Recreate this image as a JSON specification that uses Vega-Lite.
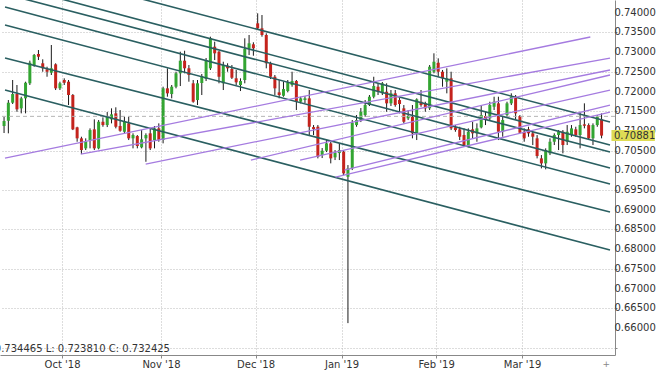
{
  "$schema": "https://vega.github.io/schema/vega-lite/v6.json",
  "width": 615,
  "height": 355,
  "autosize": {"type": "none"},
  "padding": {"left": 0, "top": 0, "right": 45, "bottom": 16},
  "background": "white",
  "config": {"view": {"stroke": null}, "font": "DejaVu Sans"},
  "datasets": {
    "one": [{"k": 1}],
    "ylabels": [{"v":0.66},{"v":0.665},{"v":0.67},{"v":0.675},{"v":0.68},{"v":0.685},{"v":0.69},{"v":0.695},{"v":0.7},{"v":0.705},{"v":0.71},{"v":0.715},{"v":0.72},{"v":0.725},{"v":0.73},{"v":0.735},{"v":0.74}],
    "candles": [
      {"i":-14,"o":0.71124,"h":0.71353,"l":0.70947,"c":0.71251},
      {"i":-13,"o":0.71258,"h":0.71784,"l":0.70939,"c":0.71716},
      {"i":-12,"o":0.71716,"h":0.72292,"l":0.71683,"c":0.71936},
      {"i":-11,"o":0.71936,"h":0.72165,"l":0.71487,"c":0.71548},
      {"i":-10,"o":0.71573,"h":0.71868,"l":0.71446,"c":0.71827},
      {"i":-9,"o":0.71827,"h":0.72249,"l":0.71446,"c":0.72223},
      {"i":-8,"o":0.72208,"h":0.72782,"l":0.72165,"c":0.72731},
      {"i":-7,"o":0.72647,"h":0.72952,"l":0.72629,"c":0.72926},
      {"i":-6,"o":0.72952,"h":0.73053,"l":0.72799,"c":0.72883},
      {"i":-5,"o":0.72716,"h":0.72817,"l":0.72502,"c":0.72589},
      {"i":-4,"o":0.72563,"h":0.72629,"l":0.72375,"c":0.72502},
      {"i":-3,"o":0.72477,"h":0.73180,"l":0.72419,"c":0.72589},
      {"i":-2,"o":0.72690,"h":0.72716,"l":0.72038,"c":0.72081},
      {"i":-1,"o":0.72081,"h":0.72249,"l":0.72038,"c":0.72208},
      {"i":0,"o":0.72292,"h":0.72335,"l":0.72165,"c":0.72223},
      {"i":1,"o":0.72249,"h":0.72292,"l":0.71657,"c":0.71911},
      {"i":2,"o":0.71911,"h":0.71936,"l":0.71022,"c":0.71040},
      {"i":3,"o":0.71091,"h":0.71106,"l":0.70726,"c":0.70812},
      {"i":4,"o":0.70812,"h":0.70853,"l":0.70414,"c":0.70515},
      {"i":5,"o":0.70558,"h":0.70812,"l":0.70515,"c":0.70726},
      {"i":6,"o":0.70769,"h":0.71065,"l":0.70558,"c":0.71022},
      {"i":7,"o":0.71040,"h":0.71294,"l":0.70515,"c":0.70558},
      {"i":8,"o":0.70558,"h":0.71276,"l":0.70533,"c":0.71233},
      {"i":9,"o":0.71233,"h":0.71345,"l":0.71106,"c":0.71149},
      {"i":10,"o":0.71149,"h":0.71479,"l":0.71098,"c":0.71360},
      {"i":11,"o":0.71294,"h":0.71573,"l":0.71192,"c":0.71421},
      {"i":12,"o":0.71446,"h":0.71599,"l":0.71065,"c":0.71106},
      {"i":13,"o":0.71124,"h":0.71530,"l":0.70979,"c":0.71005},
      {"i":14,"o":0.70979,"h":0.71360,"l":0.70939,"c":0.71233},
      {"i":15,"o":0.71192,"h":0.71360,"l":0.70769,"c":0.70812},
      {"i":16,"o":0.70812,"h":0.70939,"l":0.70558,"c":0.70896},
      {"i":17,"o":0.70870,"h":0.70896,"l":0.70558,"c":0.70617},
      {"i":18,"o":0.70584,"h":0.71022,"l":0.70558,"c":0.70787},
      {"i":19,"o":0.70812,"h":0.70939,"l":0.70218,"c":0.70896},
      {"i":20,"o":0.70939,"h":0.71065,"l":0.70515,"c":0.70558},
      {"i":21,"o":0.70769,"h":0.71124,"l":0.70558,"c":0.71065},
      {"i":22,"o":0.71065,"h":0.71192,"l":0.70726,"c":0.70769},
      {"i":23,"o":0.70769,"h":0.72122,"l":0.70685,"c":0.72081},
      {"i":24,"o":0.72081,"h":0.72589,"l":0.71868,"c":0.71954},
      {"i":25,"o":0.71936,"h":0.72165,"l":0.71827,"c":0.72122},
      {"i":26,"o":0.72122,"h":0.72502,"l":0.72081,"c":0.72462},
      {"i":27,"o":0.72462,"h":0.73010,"l":0.72139,"c":0.72782},
      {"i":28,"o":0.72782,"h":0.73035,"l":0.72462,"c":0.72589},
      {"i":29,"o":0.72589,"h":0.72672,"l":0.72249,"c":0.72419},
      {"i":30,"o":0.72208,"h":0.72292,"l":0.71716,"c":0.71741},
      {"i":31,"o":0.71784,"h":0.72292,"l":0.71657,"c":0.72208},
      {"i":32,"o":0.72216,"h":0.72444,"l":0.71911,"c":0.72393},
      {"i":33,"o":0.72317,"h":0.72850,"l":0.72266,"c":0.72799},
      {"i":34,"o":0.72589,"h":0.73391,"l":0.72546,"c":0.73350},
      {"i":35,"o":0.73137,"h":0.73264,"l":0.72799,"c":0.72969},
      {"i":36,"o":0.73010,"h":0.73028,"l":0.72208,"c":0.72375},
      {"i":37,"o":0.72208,"h":0.72756,"l":0.72038,"c":0.72672},
      {"i":38,"o":0.72655,"h":0.72716,"l":0.72502,"c":0.72589},
      {"i":39,"o":0.72571,"h":0.72672,"l":0.72317,"c":0.72350},
      {"i":40,"o":0.72335,"h":0.72546,"l":0.72165,"c":0.72233},
      {"i":41,"o":0.72165,"h":0.72335,"l":0.72012,"c":0.72266},
      {"i":42,"o":0.72292,"h":0.73350,"l":0.72208,"c":0.73079},
      {"i":43,"o":0.73096,"h":0.73434,"l":0.72926,"c":0.73223},
      {"i":44,"o":0.73198,"h":0.73249,"l":0.72908,"c":0.73096},
      {"i":45,"o":0.73731,"h":0.73984,"l":0.73561,"c":0.73604},
      {"i":46,"o":0.73604,"h":0.73941,"l":0.73391,"c":0.73434},
      {"i":47,"o":0.73434,"h":0.73477,"l":0.72589,"c":0.72716},
      {"i":48,"o":0.72716,"h":0.72756,"l":0.72317,"c":0.72375},
      {"i":49,"o":0.72375,"h":0.72419,"l":0.71911,"c":0.72081},
      {"i":50,"o":0.71979,"h":0.72292,"l":0.71827,"c":0.71911},
      {"i":51,"o":0.71893,"h":0.72249,"l":0.71868,"c":0.72063},
      {"i":52,"o":0.72012,"h":0.72292,"l":0.71979,"c":0.72233},
      {"i":53,"o":0.72165,"h":0.72502,"l":0.72122,"c":0.72266},
      {"i":54,"o":0.72266,"h":0.72292,"l":0.71530,"c":0.71741},
      {"i":55,"o":0.71741,"h":0.71868,"l":0.71700,"c":0.71827},
      {"i":56,"o":0.71784,"h":0.71885,"l":0.71708,"c":0.71827},
      {"i":57,"o":0.71827,"h":0.72038,"l":0.70896,"c":0.71106},
      {"i":58,"o":0.71098,"h":0.71149,"l":0.70896,"c":0.71048},
      {"i":59,"o":0.71106,"h":0.71149,"l":0.70304,"c":0.70345},
      {"i":60,"o":0.70388,"h":0.70566,"l":0.70312,"c":0.70497},
      {"i":61,"o":0.70497,"h":0.70769,"l":0.70464,"c":0.70685},
      {"i":62,"o":0.70685,"h":0.70726,"l":0.70177,"c":0.70304},
      {"i":63,"o":0.70330,"h":0.70515,"l":0.70261,"c":0.70447},
      {"i":64,"o":0.70439,"h":0.70693,"l":0.70261,"c":0.70515},
      {"i":65,"o":0.70472,"h":0.70515,"l":0.69880,"c":0.69923},
      {"i":66,"o":0.69837,"h":0.70134,"l":0.66124,"c":0.70050},
      {"i":67,"o":0.70050,"h":0.71276,"l":0.70007,"c":0.71208},
      {"i":68,"o":0.71149,"h":0.71403,"l":0.71106,"c":0.71276},
      {"i":69,"o":0.71276,"h":0.71581,"l":0.71225,"c":0.71487},
      {"i":70,"o":0.71403,"h":0.71784,"l":0.71360,"c":0.71657},
      {"i":71,"o":0.71657,"h":0.71911,"l":0.71632,"c":0.71868},
      {"i":72,"o":0.71868,"h":0.72375,"l":0.71827,"c":0.72139},
      {"i":73,"o":0.72122,"h":0.72208,"l":0.71911,"c":0.71995},
      {"i":74,"o":0.71954,"h":0.72241,"l":0.71911,"c":0.72208},
      {"i":75,"o":0.71995,"h":0.72208,"l":0.71487,"c":0.71700},
      {"i":76,"o":0.71700,"h":0.72038,"l":0.71632,"c":0.71954},
      {"i":77,"o":0.71954,"h":0.72038,"l":0.71614,"c":0.71657},
      {"i":78,"o":0.71784,"h":0.71835,"l":0.71446,"c":0.71683},
      {"i":79,"o":0.71573,"h":0.71657,"l":0.71192,"c":0.71233},
      {"i":80,"o":0.71319,"h":0.71530,"l":0.71276,"c":0.71378},
      {"i":81,"o":0.71360,"h":0.71657,"l":0.70812,"c":0.70939},
      {"i":82,"o":0.70939,"h":0.71827,"l":0.70769,"c":0.71802},
      {"i":83,"o":0.71741,"h":0.72038,"l":0.71614,"c":0.71657},
      {"i":84,"o":0.71700,"h":0.71741,"l":0.71487,"c":0.71573},
      {"i":85,"o":0.71573,"h":0.72672,"l":0.71530,"c":0.72629},
      {"i":86,"o":0.72502,"h":0.72969,"l":0.72462,"c":0.72756},
      {"i":87,"o":0.72731,"h":0.72842,"l":0.72375,"c":0.72502},
      {"i":88,"o":0.72502,"h":0.72546,"l":0.72122,"c":0.72335},
      {"i":89,"o":0.72249,"h":0.72589,"l":0.71954,"c":0.72335},
      {"i":90,"o":0.72335,"h":0.72502,"l":0.71022,"c":0.71065},
      {"i":91,"o":0.71091,"h":0.71149,"l":0.70979,"c":0.71022},
      {"i":92,"o":0.71040,"h":0.71106,"l":0.70769,"c":0.70853},
      {"i":93,"o":0.70896,"h":0.71065,"l":0.70599,"c":0.70642},
      {"i":94,"o":0.70599,"h":0.71065,"l":0.70584,"c":0.70979},
      {"i":95,"o":0.71040,"h":0.71233,"l":0.70812,"c":0.70939},
      {"i":96,"o":0.70939,"h":0.71192,"l":0.70726,"c":0.71065},
      {"i":97,"o":0.71091,"h":0.71657,"l":0.71065,"c":0.71403},
      {"i":98,"o":0.71378,"h":0.71487,"l":0.71149,"c":0.71276},
      {"i":99,"o":0.71319,"h":0.71741,"l":0.71276,"c":0.71657},
      {"i":100,"o":0.71614,"h":0.71868,"l":0.71530,"c":0.71741},
      {"i":101,"o":0.71700,"h":0.71868,"l":0.70769,"c":0.70979},
      {"i":102,"o":0.70979,"h":0.71360,"l":0.70853,"c":0.71276},
      {"i":103,"o":0.71403,"h":0.71741,"l":0.71360,"c":0.71700},
      {"i":104,"o":0.71700,"h":0.71954,"l":0.71657,"c":0.71868},
      {"i":105,"o":0.71868,"h":0.71911,"l":0.71294,"c":0.71446},
      {"i":106,"o":0.71378,"h":0.71403,"l":0.70939,"c":0.70954},
      {"i":107,"o":0.70979,"h":0.71065,"l":0.70726,"c":0.70812},
      {"i":108,"o":0.71040,"h":0.71106,"l":0.70853,"c":0.70939},
      {"i":109,"o":0.70939,"h":0.70979,"l":0.70642,"c":0.70853},
      {"i":110,"o":0.70812,"h":0.70896,"l":0.70304,"c":0.70363},
      {"i":111,"o":0.70304,"h":0.70388,"l":0.70050,"c":0.70177},
      {"i":112,"o":0.70177,"h":0.70558,"l":0.70025,"c":0.70515},
      {"i":113,"o":0.70431,"h":0.70812,"l":0.70388,"c":0.70726},
      {"i":114,"o":0.70726,"h":0.70939,"l":0.70642,"c":0.70896},
      {"i":115,"o":0.70896,"h":0.71022,"l":0.70515,"c":0.70979},
      {"i":116,"o":0.70979,"h":0.71022,"l":0.70431,"c":0.70642},
      {"i":117,"o":0.70726,"h":0.71149,"l":0.70642,"c":0.70979},
      {"i":118,"o":0.70896,"h":0.71149,"l":0.70853,"c":0.71065},
      {"i":119,"o":0.71040,"h":0.71106,"l":0.70853,"c":0.70896},
      {"i":120,"o":0.70896,"h":0.71487,"l":0.70558,"c":0.71149},
      {"i":121,"o":0.71167,"h":0.71700,"l":0.71065,"c":0.71131},
      {"i":122,"o":0.71149,"h":0.71192,"l":0.70769,"c":0.70812},
      {"i":123,"o":0.70812,"h":0.71192,"l":0.70642,"c":0.71149},
      {"i":124,"o":0.71149,"h":0.71403,"l":0.71106,"c":0.71360},
      {"i":125,"o":0.71294,"h":0.71446,"l":0.70812,"c":0.70881}
    ],
    "teal": [
      {"x1":-13.78,"y1":0.75261,"x2":126.96,"y2":0.71226},
      {"x1":-13.78,"y1":0.74728,"x2":126.96,"y2":0.70642},
      {"x1":-13.78,"y1":0.74475,"x2":126.96,"y2":0.70464},
      {"x1":-13.78,"y1":0.74145,"x2":126.96,"y2":0.70058},
      {"x1":-13.78,"y1":0.73688,"x2":126.96,"y2":0.69652},
      {"x1":-13.78,"y1":0.72850,"x2":126.96,"y2":0.68941},
      {"x1":-13.78,"y1":0.72038,"x2":126.96,"y2":0.67977}
    ],
    "purple": [
      {"x1":-13.78,"y1":0.70312,"x2":122.38,"y2":0.73383},
      {"x1":3.84,"y1":0.70414,"x2":126.96,"y2":0.72850},
      {"x1":18.95,"y1":0.70160,"x2":126.96,"y2":0.72546},
      {"x1":43.43,"y1":0.70261,"x2":126.96,"y2":0.72419},
      {"x1":54.87,"y1":0.70261,"x2":126.96,"y2":0.72038},
      {"x1":63.11,"y1":0.69830,"x2":126.96,"y2":0.71479},
      {"x1":65.17,"y1":0.70007,"x2":126.96,"y2":0.71657}
    ]
  },
  "layer": [
    {
      "data": {"name": "candles"},
      "mark": {"type": "rule", "color": "#1a1a1a", "strokeWidth": 1, "clip": true},
      "encoding": {
        "x": {
          "field": "i", "type": "quantitative",
          "scale": {"domain": [-13.78, 126.96], "nice": false, "zero": false},
          "axis": {
            "orient": "bottom", "title": null,
            "values": [-0.5, 22.5, 44.5, 64.5, 86.5, 106.5],
            "labelExpr": "datum.value == -0.5 ? \"Oct '18\" : datum.value == 22.5 ? \"Nov '18\" : datum.value == 44.5 ? \"Dec '18\" : datum.value == 64.5 ? \"Jan '19\" : datum.value == 86.5 ? \"Feb '19\" : \"Mar '19\"",
            "grid": true, "gridDash": [1, 2], "gridColor": "#bbbbbb", "gridWidth": 1,
            "domainColor": "#888888", "tickColor": "#888888", "tickSize": 3,
            "labelFont": "DejaVu Sans", "labelFontSize": 10, "labelColor": "#333333",
            "labelPadding": 1, "labelFlush": false, "labelOverlap": false
          }
        },
        "y": {
          "field": "l", "type": "quantitative",
          "scale": {"domain": [0.65315, 0.74322], "nice": false, "zero": false},
          "axis": {
            "orient": "right", "title": null, "labels": false,
            "values": [0.655, 0.66, 0.665, 0.67, 0.675, 0.68, 0.685, 0.69, 0.695, 0.7, 0.705, 0.71, 0.715, 0.72, 0.725, 0.73, 0.735, 0.74],
            "grid": true, "gridDash": [1, 2], "gridColor": "#bbbbbb", "gridWidth": 1,
            "domainColor": "#888888", "tickColor": "#888888", "tickSize": 2
          }
        },
        "y2": {"field": "h"}
      }
    },
    {
      "data": {"name": "candles"},
      "mark": {"type": "bar", "width": 3, "clip": true},
      "encoding": {
        "x": {"field": "i", "type": "quantitative"},
        "y": {"field": "o", "type": "quantitative"},
        "y2": {"field": "c"},
        "color": {"condition": {"test": "datum.c >= datum.o", "value": "#33a532"}, "value": "#c4231d"}
      }
    },
    {
      "data": {"name": "one"},
      "mark": {"type": "rule", "strokeDash": [4, 3], "color": "#b4b4b4", "strokeWidth": 1},
      "encoding": {"y": {"datum": 0.7137, "type": "quantitative"}}
    },
    {
      "data": {"name": "teal"},
      "mark": {"type": "rule", "color": "#2a5f61", "strokeWidth": 1.6, "clip": true},
      "encoding": {
        "x": {"field": "x1", "type": "quantitative"},
        "x2": {"field": "x2"},
        "y": {"field": "y1", "type": "quantitative"},
        "y2": {"field": "y2"}
      }
    },
    {
      "data": {"name": "purple"},
      "mark": {"type": "rule", "color": "#a57be0", "strokeWidth": 1.3, "clip": true},
      "encoding": {
        "x": {"field": "x1", "type": "quantitative"},
        "x2": {"field": "x2"},
        "y": {"field": "y1", "type": "quantitative"},
        "y2": {"field": "y2"}
      }
    },
    {
      "data": {"name": "ylabels"},
      "mark": {"type": "text", "align": "left", "baseline": "middle", "font": "DejaVu Sans", "fontSize": 10, "color": "#333333"},
      "encoding": {
        "x": {"datum": 128.0, "type": "quantitative"},
        "y": {"field": "v", "type": "quantitative"},
        "text": {"field": "v", "type": "quantitative", "format": ".5f"}
      }
    },
    {
      "data": {"name": "one"},
      "mark": {"type": "rect", "color": "#dedc55"},
      "encoding": {
        "x": {"datum": 127.3, "type": "quantitative"},
        "x2": {"datum": 137.4},
        "y": {"datum": 0.71022, "type": "quantitative"},
        "y2": {"datum": 0.70744}
      }
    },
    {
      "data": {"name": "one"},
      "mark": {"type": "text", "align": "left", "baseline": "middle", "font": "DejaVu Sans", "fontSize": 10, "color": "#333333"},
      "encoding": {
        "x": {"datum": 127.87, "type": "quantitative"},
        "y": {"datum": 0.70881, "type": "quantitative"},
        "text": {"value": "0.70881"}
      }
    },
    {
      "data": {"name": "one"},
      "mark": {"type": "text", "align": "right", "baseline": "middle", "font": "DejaVu Sans", "fontSize": 10, "color": "#333333"},
      "encoding": {
        "x": {"datum": 24.6, "type": "quantitative"},
        "y": {"datum": 0.65464, "type": "quantitative"},
        "text": {"value": "H: 0.734465 L: 0.723810 C: 0.732425"}
      }
    },
    {
      "data": {"name": "one"},
      "mark": {"type": "text", "align": "center", "baseline": "middle", "font": "DejaVu Sans", "fontSize": 9, "color": "#888888"},
      "encoding": {
        "x": {"datum": 126.1, "type": "quantitative"},
        "y": {"datum": 0.65083, "type": "quantitative"},
        "text": {"value": "+"}
      }
    }
  ]
}
